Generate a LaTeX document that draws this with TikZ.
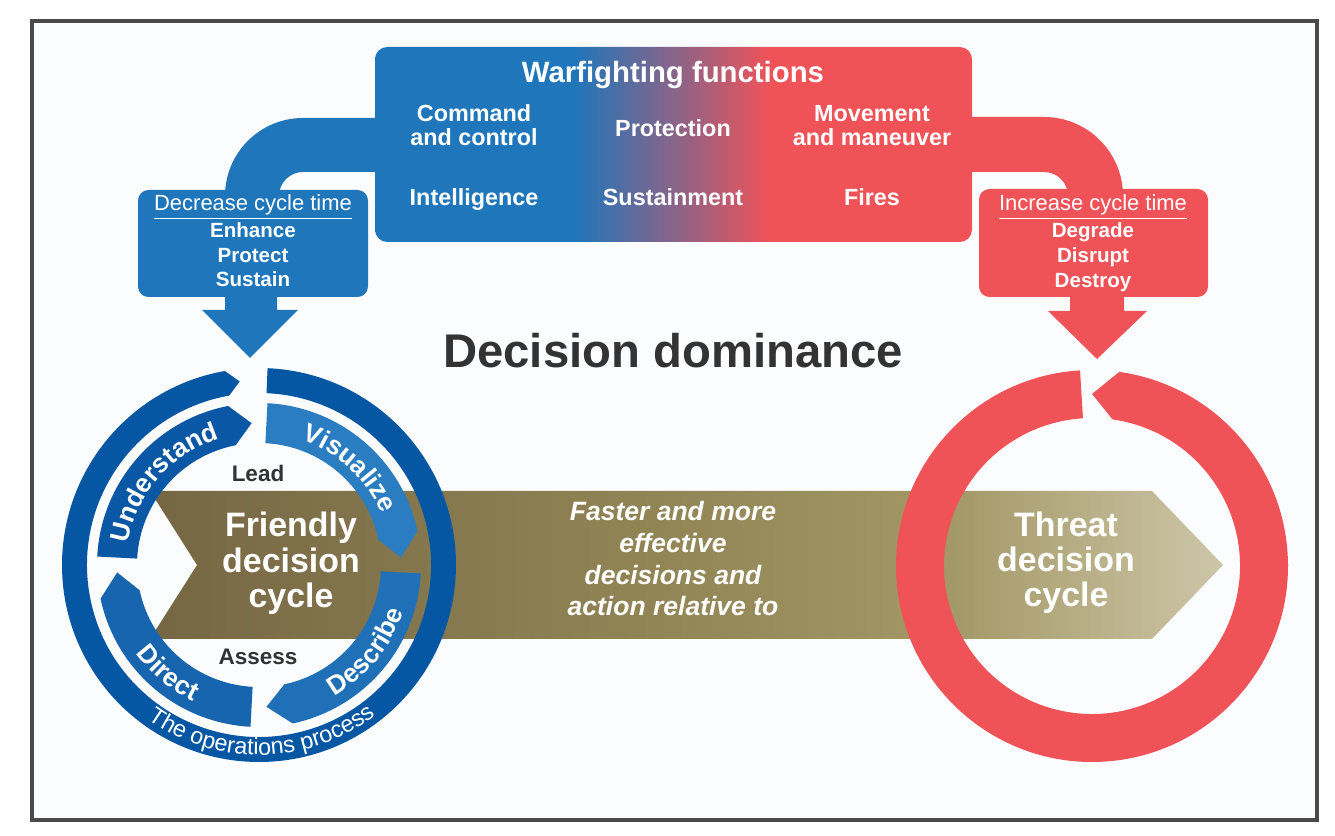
\documentclass[tikz,border=0pt]{standalone}
\usepackage{fontspec}
\setmainfont{Liberation Sans}
\usetikzlibrary{decorations.text}
\definecolor{wfblue}{HTML}{1F76BB}
\definecolor{wfred}{HTML}{EF5358}
\definecolor{ringblue}{HTML}{0556A3}
\definecolor{undblue}{HTML}{0A58A5}
\definecolor{visblue}{HTML}{2B7DC2}
\definecolor{desblue}{HTML}{2070B8}
\definecolor{dirblue}{HTML}{1764AF}
\definecolor{textdark}{HTML}{333333}
\definecolor{framecol}{HTML}{4A4A4A}
\definecolor{bgcol}{HTML}{FBFCFD}
\definecolor{olA}{HTML}{766744}
\definecolor{olM}{HTML}{928656}
\definecolor{olB}{HTML}{A39866}
\definecolor{olC}{HTML}{CDC6A8}
\pgfdeclarehorizontalshading{wfgrad}{100bp}{color(0bp)=(wfblue); color(41.7bp)=(wfblue); color(58.1bp)=(wfred); color(100bp)=(wfred)}
\pgfdeclarehorizontalshading{olivegrad}{100bp}{color(0bp)=(olA); color(25bp)=(olA); color(49.4bp)=(olM); color(62.3bp)=(olB); color(75bp)=(olC); color(100bp)=(olC)}
% style, start angle, corner angle, tip angle, r in, r out, r mid
\newcommand\ringarrow[7]{%
  \fill[#1] (#2:#6) arc[start angle=#2, end angle=#3, radius=#6] -- (#4:#7) -- (#3:#5) arc[start angle=#3, end angle=#2, radius=#5] -- cycle;}
% font, text, start, end, radius
\newcommand\arctext[5]{%
  \path[decorate, decoration={text along path, text align=center, text={|#1\color{white}|#2}}] (#3:#5) arc[start angle=#3, end angle=#4, radius=#5];}
\newcommand\seglabelfont{\fontsize{15}{15}\selectfont\bfseries}
\newcommand\opslabelfont{\fontsize{13.3}{13.3}\selectfont}
\begin{document}
\begin{tikzpicture}[x=0.02cm, y=0.02cm,
  base/.style={anchor=base, inner sep=0pt},
  wfhead/.style={base, text=white, font=\fontsize{16.7}{18}\selectfont\bfseries},
  wfitem/.style={base, text=white, font=\fontsize{13.3}{14}\selectfont\bfseries},
  sidehead/.style={base, text=white, font=\fontsize{12.5}{13}\selectfont},
  sideitem/.style={base, text=white, font=\fontsize{11.7}{12}\selectfont\bfseries},
  cyclbl/.style={base, text=white, font=\fontsize{19.3}{20}\selectfont\bfseries},
  midlbl/.style={base, text=white, font=\fontsize{15.1}{16}\selectfont\bfseries\itshape},
  darklbl/.style={base, text=textdark, font=\fontsize{12.8}{13}\selectfont\bfseries},
  titlelbl/.style={base, text=textdark, font=\fontsize{26.9}{28}\selectfont\bfseries},
]
\useasboundingbox (0,0) rectangle (1335,835);
\fill[white] (0,0) rectangle (1335,835);
\draw[framecol, line width=1.8pt, fill=bgcol] (32,15) rectangle (1317,814);

% curved bands
\fill[wfblue] (380,717) -- (303,717) arc[start angle=90, end angle=180, radius=78] -- (279,639) arc[start angle=180, end angle=90, radius=24] -- (380,663) -- cycle;
\fill[wfred] (968,718) -- (1044,718) arc[start angle=90, end angle=0, radius=79] -- (1068,639) arc[start angle=0, end angle=90, radius=24] -- (968,663) -- cycle;

% top box
\shade[shading=wfgrad, rounded corners=7pt] (375,593) rectangle (972,788);

% side boxes and arrows
\fill[wfblue, rounded corners=6pt] (138,538) rectangle (368,645);
\fill[wfblue] (225,540) -- (225,525) -- (202,525) -- (250,477) -- (298,525) -- (277,525) -- (277,540) -- cycle;
\fill[wfred, rounded corners=6pt] (979,538) rectangle (1208,646);
\fill[wfred] (1070,540) -- (1070,524) -- (1048,524) -- (1097,476) -- (1147,524) -- (1124,524) -- (1124,540) -- cycle;

% olive arrow
\shade[shading=olivegrad] (150,344) -- (1152,344) -- (1223,270) -- (1152,196) -- (150,196) -- (197,270) -- cycle;

% friendly cycle
\begin{scope}[shift={(259,270)}]
  \ringarrow{ringblue}{87.5}{-260}{-264}{172}{197}{184.5}
  \ringarrow{undblue}{177}{101}{93}{122}{162}{142}
  \ringarrow{visblue}{87}{12}{3}{122}{162}{142}
  \ringarrow{desblue}{-3}{-78}{-87}{122}{162}{142}
  \ringarrow{dirblue}{-93}{-168}{-177}{122}{162}{142}
  \arctext{\seglabelfont}{Understand}{179}{99}{132.5}
  \arctext{\seglabelfont}{Visualize}{87}{7}{132.5}
  \arctext{\seglabelfont}{Describe}{-79}{1}{151.5}
  \arctext{\seglabelfont}{Direct}{-170}{-90}{151.5}
  \arctext{\opslabelfont}{The operations process}{-145}{-33}{190}
\end{scope}

% threat cycle
\begin{scope}[shift={(1092,269)}]
  \ringarrow{wfred}{93.5}{442}{450}{148}{196}{172}
\end{scope}

% texts
\node[wfhead] (wf) at (673,752) {Warfighting functions};
\node[wfitem] (cc1) at (474,713) {Command};
\node[wfitem] (cc2) at (474,689) {and control};
\node[wfitem] (prot) at (673,698) {Protection};
\node[wfitem] (mm1) at (872,713) {Movement};
\node[wfitem] (mm2) at (872,689) {and maneuver};
\node[wfitem] (intl) at (474,629) {Intelligence};
\node[wfitem] (sust) at (673,629) {Sustainment};
\node[wfitem] (fire) at (872,629) {Fires};

\node[sidehead] (dec) at (253,624) {\underline{Decrease cycle time}};
\node[sideitem] (enh) at (253,597) {Enhance};
\node[sideitem] (prt) at (253,572) {Protect};
\node[sideitem] (sus) at (253,548) {Sustain};
\node[sidehead] (inc) at (1093,624) {\underline{Increase cycle time}};
\node[sideitem] (deg) at (1093,597) {Degrade};
\node[sideitem] (dis) at (1093,572) {Disrupt};
\node[sideitem] (des) at (1093,547) {Destroy};

\node[titlelbl] (dd) at (673,467) {Decision dominance};
\node[darklbl] (lead) at (258,353) {Lead};
\node[darklbl] (assess) at (258,170) {Assess};

\node[cyclbl] (fr1) at (291,298) {Friendly};
\node[cyclbl] (fr2) at (291,262) {decision};
\node[cyclbl] (fr3) at (291,227) {cycle};
\node[cyclbl] (th1) at (1066,298) {Threat};
\node[cyclbl] (th2) at (1066,263) {decision};
\node[cyclbl] (th3) at (1066,228) {cycle};

\node[midlbl] (m1) at (673,314) {Faster and more};
\node[midlbl] (m2) at (673,282) {effective};
\node[midlbl] (m3) at (673,250) {decisions and};
\node[midlbl] (m4) at (673,219) {action relative to};
\end{tikzpicture}
\end{document}
